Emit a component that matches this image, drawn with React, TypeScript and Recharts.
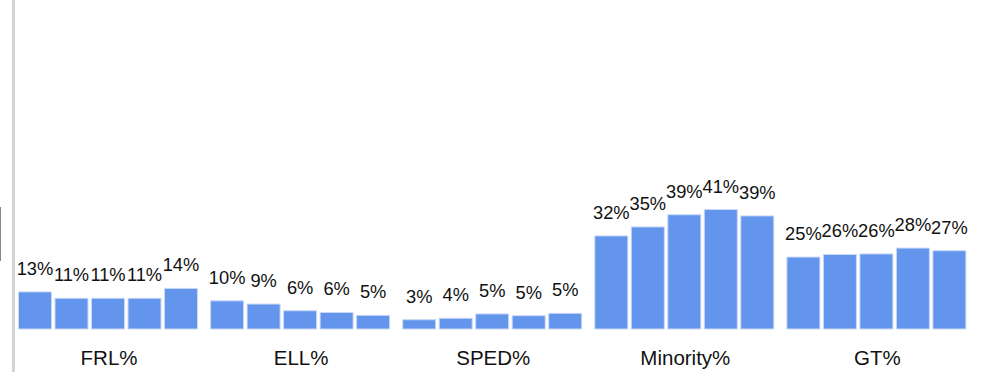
import { Bar, BarChart, LabelList, XAxis, YAxis } from "recharts";

const categories = ["FRL%", "ELL%", "SPED%", "Minority%", "GT%"];
const seriesKeys = ["s1", "s2", "s3", "s4", "s5"];
const s1 = [12.8, 9.7, 3.2, 32.1, 24.8];
const s2 = [10.6, 8.6, 3.7, 35.2, 25.7];
const s3 = [10.6, 6.3, 5.2, 39.4, 25.9];
const s4 = [10.6, 5.7, 4.6, 41.2, 27.9];
const s5 = [14.0, 4.7, 5.4, 39.0, 27.0];

const seriesValues = [s1, s2, s3, s4, s5];
const data = categories.map((name, i) => {
  const row: Record<string, string | number> = { name };
  seriesKeys.forEach((k, j) => {
    row[k] = seriesValues[j][i];
  });
  return row;
});

const font = "'Liberation Sans', Arial, sans-serif";

export default function App() {
  return (
    <div style={{ position: "absolute", left: 0, top: 0, width: 983, height: 372, background: "#fff" }}>
      <div style={{ position: "absolute", left: 12, top: 0, width: 3, height: 372, background: "#d3d3d3" }} />
      <div style={{ position: "absolute", left: 0, top: 207, width: 1, height: 54, background: "#888" }} />
      <BarChart
        width={983}
        height={372}
        data={data}
        margin={{ top: 10, right: 9.5, bottom: 0, left: 13 }}
        barCategoryGap={5.5}
        barGap={3.5}
        style={{ position: "absolute", left: 0, top: 0 }}
      >
        <XAxis
          dataKey="name"
          height={43}
          tickLine={false}
          axisLine={false}
          tickMargin={15}
          tick={{ fill: "#111", fontSize: 20.5, fontFamily: font }}
        />
        <YAxis hide domain={[0, 110]} />
        {seriesKeys.map((k) => (
          <Bar key={k} dataKey={k} fill="#6495ed" stroke="#c9d8f7" strokeWidth={1} isAnimationActive={false}>
            <LabelList
              dataKey={k}
              position="top"
              offset={17}
              formatter={(v: number) => `${Math.round(v)}%`}
              style={{ fill: "#111", fontSize: 18.3, fontFamily: font }}
            />
          </Bar>
        ))}
      </BarChart>
    </div>
  );
}
